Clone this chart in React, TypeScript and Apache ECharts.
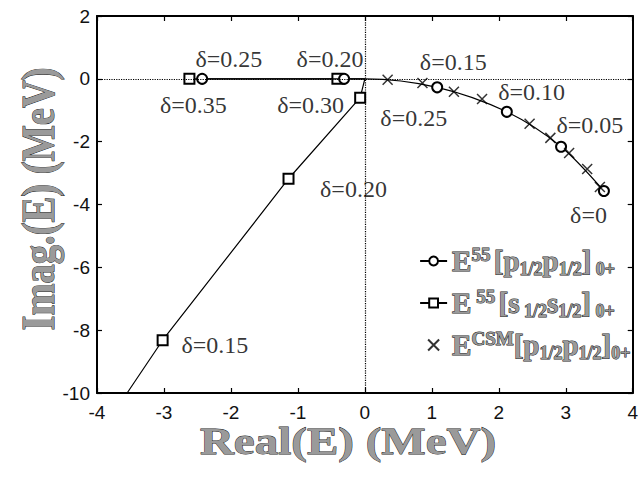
import React, { useEffect, useRef } from "react";
import * as echarts from "echarts";

// Pole trajectories in the complex energy plane (MeV), traced as δ decreases.
const sReal = [-2.62, -0.41, 0, -0.07, -1.14, -3.02, -3.55];
const sImag = [0, 0, 0, -0.6, -3.18, -8.32, -10];
const sMarked = [true, true, false, true, true, true, false];

const pReal = [-2.43, -0.31, 0, 1.08, 2.12, 2.93, 3.57];
const pImag = [0, 0, 0, -0.27, -1.05, -2.16, -3.57];
const pMarked = [true, true, false, true, true, true, true];

const csmReal = [0.34, 0.86, 1.33, 1.75, 2.46, 2.77, 3.05, 3.32, 3.51];
const csmImag = [-0.03, -0.13, -0.41, -0.64, -1.43, -1.88, -2.36, -2.87, -3.44];

// δ annotations: text, real part, imaginary part
const deltaText = ["δ=0.25", "δ=0.20", "δ=0.35", "δ=0.30", "δ=0.25", "δ=0.15", "δ=0.10", "δ=0.05", "δ=0", "δ=0.20", "δ=0.15"];
const deltaReal = [-2.03, -0.52, -2.56, -0.81, 0.73, 1.32, 2.49, 3.36, 3.34, -0.17, -2.24];
const deltaImag = [0.64, 0.64, -0.83, -0.83, -1.24, 0.54, -0.41, -1.46, -4.33, -3.5, -8.47];

const nameP = "E55 [p1/2 p1/2]0+";
const nameS = "E55 [s1/2 s1/2]0+";
const nameCSM = "ECSM[p1/2 p1/2]0+";

const legendRich: Record<string, string> = {
  [nameP]: "{t|E}{sup|55} {t|[p}{sub|1/2}{t|p}{sub|1/2}{t|]}{sub| 0+}",
  [nameS]: "{t|E}{sup| 55} {t|[s}{sub| 1/2}{t|s}{sub|1/2}{t|]}{sub| 0+}",
  [nameCSM]: "{t|E}{sup|CSM}{t|[p}{sub|1/2}{t|p}{sub|1/2}{t|]}{sub|0+}",
};

const xTitle = "Real(E) (MeV)";
const yTitle = "Imag.(E) (MeV)";

const SERIF = "'Liberation Serif', 'DejaVu Serif', serif";
const SANS = "'Liberation Sans', Arial, sans-serif";

const outlined = {
  fontFamily: SERIF,
  fontWeight: "bold" as const,
  color: "#9a9a9a",
  textBorderColor: "#1a1a1a",
  textBorderWidth: 1,
};

const titleStyle = (text: string) => ({
  text,
  font: "bold 47px 'Liberation Serif', serif",
  fill: "#9a9a9a",
  stroke: "#1a1a1a",
  lineWidth: 1,
  align: "center",
  verticalAlign: "middle",
});

const CROSS = "path://M0,0L10,10M10,0L0,10";

export default function App() {
  const ref = useRef<HTMLDivElement>(null);

  useEffect(() => {
    if (!ref.current) return;
    const chart = echarts.init(ref.current, null, { renderer: "svg" });

    const marked = (re: number[], im: number[], flags: boolean[]) =>
      re.map((x, i) => (flags[i] ? [x, im[i]] : { value: [x, im[i]], symbol: "none" }));

    const axisLabel = { fontFamily: SANS, fontSize: 19, color: "#111" };
    const axisLine = { show: true, onZero: false, lineStyle: { color: "#000", width: 2 } };
    const axisTick = { show: true, inside: true, length: 5, lineStyle: { color: "#000", width: 1.2 } };

    chart.setOption({
      animation: false,
      backgroundColor: "#fff",
      grid: { left: 97, right: 3, top: 16, bottom: 85 },
      xAxis: [
        {
          type: "value",
          min: -4,
          max: 4,
          interval: 1,
          position: "bottom",
          axisLine,
          axisTick,
          splitLine: { show: false },
          axisLabel: { ...axisLabel, margin: 10 },
        },
        {
          type: "value",
          min: -4,
          max: 4,
          interval: 1,
          position: "top",
          axisLine,
          axisTick,
          splitLine: { show: false },
          axisLabel: { show: false },
        },
      ],
      yAxis: [
        {
          type: "value",
          min: -10,
          max: 2,
          interval: 2,
          position: "left",
          axisLine,
          axisTick,
          splitLine: { show: false },
          axisLabel: { ...axisLabel, margin: 7 },
        },
        {
          type: "value",
          min: -10,
          max: 2,
          interval: 2,
          position: "right",
          axisLine,
          axisTick,
          splitLine: { show: false },
          axisLabel: { show: false },
        },
      ],
      graphic: [
        { type: "text", x: 348, y: 441, scaleY: 0.82, style: titleStyle(xTitle) },
        { type: "text", x: 38, y: 199, rotation: Math.PI / 2, scaleX: 0.82, style: titleStyle(yTitle) },
      ],
      legend: {
        orient: "vertical",
        right: 5,
        top: 239,
        itemGap: 8,
        itemWidth: 27,
        itemHeight: 11,
        data: [nameP, nameS, nameCSM],
        formatter: (n: string) => legendRich[n] || n,
        textStyle: {
          rich: {
            t: { ...outlined, fontSize: 29, lineHeight: 33 },
            sup: { ...outlined, fontSize: 19, verticalAlign: "top" },
            sub: { ...outlined, fontSize: 18, verticalAlign: "bottom" },
          },
        },
      },
      series: [
        {
          name: nameS,
          type: "line",
          data: marked(sReal, sImag, sMarked),
          symbol: "emptyRect",
          symbolSize: 10,
          lineStyle: { color: "#000", width: 1.2 },
          itemStyle: { color: "#000", borderWidth: 1.2 },
          z: 3,
          markLine: {
            silent: true,
            symbol: "none",
            label: { show: false },
            lineStyle: { color: "#000", type: "dotted", width: 1.2 },
            data: [{ xAxis: 0 }, { yAxis: 0 }],
          },
        },
        {
          name: nameP,
          type: "line",
          data: marked(pReal, pImag, pMarked),
          smooth: 0.3,
          symbol: "emptyCircle",
          symbolSize: 10,
          lineStyle: { color: "#000", width: 1.2 },
          itemStyle: { color: "#000", borderWidth: 1.2 },
          z: 4,
        },
        {
          name: nameCSM,
          type: "scatter",
          data: csmReal.map((x, i) => [x, csmImag[i]]),
          symbol: CROSS,
          symbolSize: 10,
          itemStyle: { color: "none", borderColor: "#000", borderWidth: 1.5 },
          z: 5,
        },
        {
          name: "delta",
          type: "scatter",
          silent: true,
          symbolSize: 0,
          data: deltaText.map((t, i) => ({ name: t, value: [deltaReal[i], deltaImag[i]] })),
          label: {
            show: true,
            position: "inside",
            formatter: (p: any) => p.name,
            fontFamily: SERIF,
            fontSize: 24,
            color: "#000",
          },
          z: 6,
        },
      ],
    });

    return () => chart.dispose();
  }, []);

  return (
    <div
      ref={ref}
      style={{ position: "fixed", left: 0, top: 0, width: 641, height: 478, background: "#fff" }}
    />
  );
}
